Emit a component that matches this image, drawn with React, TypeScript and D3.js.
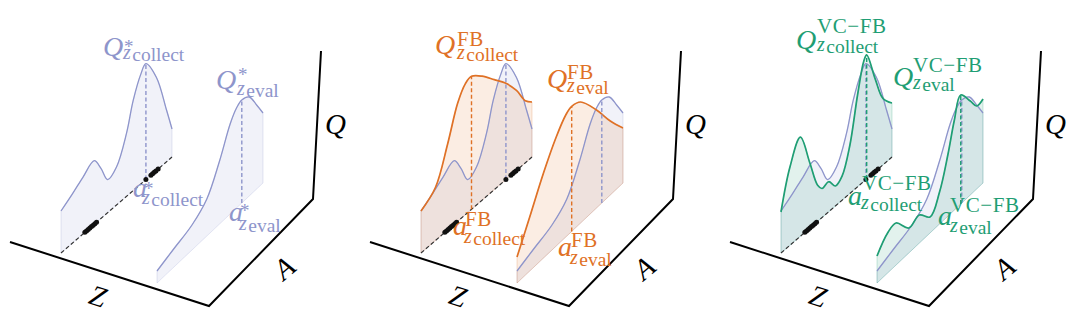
import React from 'react';
import * as d3 from 'd3';

type Pt = [number, number]; // [action a, value Q]

// ---------- data ----------
const panelNames = ['*', 'FB', 'VC−FB'];
const panelColors = ['#8e95cb', '#df7126', '#1f9e74'];

const qStarCollect: Pt[] = [[0, 0.42], [0.1, 0.49], [0.2, 0.57], [0.3, 0.635], [0.36, 0.5], [0.42, 0.33], [0.5, 0.38], [0.59, 0.63], [0.65, 0.9], [0.72, 1.1], [0.765, 1.16], [0.86, 0.93], [0.95, 0.52], [1, 0.28]];
const qStarEval: Pt[] = [[0, 0.12], [0.15, 0.18], [0.33, 0.25], [0.47, 0.37], [0.59, 0.63], [0.69, 0.9], [0.75, 1.0], [0.8, 1.03], [0.87, 0.99], [0.94, 0.84], [1, 0.7]];
const qFBCollect: Pt[] = [[0, 0.42], [0.13, 0.53], [0.24, 0.86], [0.33, 1.18], [0.4, 1.31], [0.455, 1.33], [0.55, 1.24], [0.66, 1.1], [0.76, 0.97], [0.86, 0.8], [0.94, 0.62], [1, 0.55]];
const qFBEval: Pt[] = [[0, 0.26], [0.12, 0.54], [0.25, 0.85], [0.37, 1.09], [0.46, 1.22], [0.516, 1.25], [0.6, 1.21], [0.75, 0.98], [0.88, 0.74], [1, 0.55]];
const qVCCollect: Pt[] = [[0, 0.41], [0.08, 0.78], [0.175, 0.99], [0.26, 0.65], [0.33, 0.36], [0.37, 0.29], [0.43, 0.3], [0.49, 0.2], [0.55, 0.24], [0.62, 0.48], [0.69, 0.92], [0.745, 1.2], [0.772, 1.24], [0.85, 0.92], [0.92, 0.66], [1, 0.54]];
const qVCEval: Pt[] = [[0, 0.27], [0.1, 0.4], [0.18, 0.42], [0.3, 0.25], [0.4, 0.28], [0.5, 0.16], [0.59, 0.32], [0.67, 0.62], [0.73, 0.9], [0.79, 1.09], [0.88, 0.94], [0.94, 0.83], [1, 0.84]];
const datasetActions = [0.215, 0.23, 0.245, 0.26, 0.275, 0.29, 0.305, 0.32, 0.765, 0.81, 0.825, 0.84, 0.855, 0.875];

const variantCollect: (Pt[] | null)[] = [null, qFBCollect, qVCCollect];
const variantEval: (Pt[] | null)[] = [null, qFBEval, qVCEval];

// ---------- geometry ----------
const W = 1080, H = 333, PANEL_W = 360;
const collectPlane = {
  x: d3.scaleLinear().domain([0, 1]).range([61, 172]),
  y: d3.scaleLinear().domain([0, 1]).range([253, 157]),
};
const evalPlane = {
  x: d3.scaleLinear().domain([0, 1]).range([157, 263]),
  y: d3.scaleLinear().domain([0, 1]).range([283, 183]),
};
const hScale = d3.scaleLinear().domain([0, 1]).range([0, 100]);
type Plane = typeof collectPlane;

const FONT = "'Liberation Serif', 'Times New Roman', serif";

function areaGen(p: Plane) {
  return d3.area<Pt>()
    .x(d => p.x(d[0]))
    .y0(d => p.y(d[0]))
    .y1(d => p.y(d[0]) - hScale(d[1]))
    .curve(d3.curveCatmullRom);
}
function lineGen(p: Plane) {
  return d3.line<Pt>()
    .x(d => p.x(d[0]))
    .y(d => p.y(d[0]) - hScale(d[1]))
    .curve(d3.curveCatmullRom);
}

function Fill({ data, plane, color, fillOpacity }: { data: Pt[]; plane: Plane; color: string; fillOpacity: number }) {
  return <path d={areaGen(plane)(data) || ''} fill={color} fillOpacity={fillOpacity} stroke={color} strokeOpacity={0.22} strokeWidth={1} />;
}
function CurveLine({ data, plane, color, width }: { data: Pt[]; plane: Plane; color: string; width: number }) {
  return <path d={lineGen(plane)(data) || ''} fill="none" stroke={color} strokeWidth={width} strokeLinejoin="round" />;
}
function ArgMax({ data, plane, color }: { data: Pt[]; plane: Plane; color: string }) {
  const best = d3.greatest(data, d => d[1])!;
  const x = plane.x(best[0]);
  return <line x1={x} x2={x} y1={plane.y(best[0])} y2={plane.y(best[0]) - hScale(best[1])} stroke={color} strokeWidth={1.4} strokeDasharray="4 2.5" />;
}

type LabelSpec = { x: number; y: number; supX: number; supY: number; subX: number; subY: number };
function MathLabel({ s, main, sup, word, color }: { s: LabelSpec; main: string; sup: string; word: string; color: string }) {
  const isStar = sup === '*';
  return (
    <text fill={color} fontFamily={FONT}>
      <tspan x={s.x} y={s.y} fontStyle="italic" fontSize={28}>{main}</tspan>
      <tspan x={s.supX} y={s.supY} fontSize={isStar ? 19 : 21} letterSpacing={isStar ? 0 : 0.6}>{sup}</tspan>
      <tspan x={s.subX} y={s.subY} fontStyle="italic" fontSize={20}>z</tspan>
      <tspan dx={1.5} dy={1.5} fontSize={19.5}>{word}</tspan>
    </text>
  );
}

const labelLayout: { qc: LabelSpec; qe: LabelSpec; ac: LabelSpec; ae: LabelSpec }[] = [
  {
    qc: { x: 103, y: 56, supX: 124, supY: 53, subX: 123, subY: 59 },
    qe: { x: 216, y: 89, supX: 238, supY: 81, subX: 237, subY: 95 },
    ac: { x: 133, y: 197, supX: 144, supY: 195, subX: 142, subY: 204 },
    ae: { x: 229, y: 221, supX: 240, supY: 217, subX: 239, subY: 230 },
  },
  {
    qc: { x: 75, y: 54, supX: 97, supY: 46, subX: 97, subY: 59 },
    qe: { x: 187, y: 88, supX: 207, supY: 79, subX: 207, subY: 92 },
    ac: { x: 93, y: 235, supX: 105, supY: 226, subX: 104, subY: 243 },
    ae: { x: 198, y: 256, supX: 211, supY: 247, subX: 210, subY: 264 },
  },
  {
    qc: { x: 76, y: 49, supX: 97, supY: 33, subX: 97, subY: 51 },
    qe: { x: 173, y: 86, supX: 193, supY: 72, subX: 193, subY: 89 },
    ac: { x: 128, y: 205, supX: 142, supY: 190, subX: 141, subY: 209 },
    ae: { x: 218, y: 225, supX: 230, supY: 212, subX: 230, subY: 232 },
  },
];

function Panel({ i }: { i: number }) {
  const blue = panelColors[0];
  const color = panelColors[i];
  const vc = variantCollect[i];
  const ve = variantEval[i];
  const L = labelLayout[i];
  const sup = panelNames[i];
  return (
    <g transform={`translate(${i * PANEL_W},0)`}>
      {/* axes */}
      <path d="M10,242 L209,306 L313,199 L321,51" fill="none" stroke="#000" strokeWidth={2} strokeLinejoin="miter" />
      <text x={325} y={134} fontFamily={FONT} fontStyle="italic" fontSize={29} fill="#000">Q</text>
      <text transform="translate(98,296) rotate(18)" textAnchor="middle" dominantBaseline="central" fontFamily={FONT} fontStyle="italic" fontSize={29} fill="#000">Z</text>
      <text transform="translate(284,268) rotate(-40)" textAnchor="middle" dominantBaseline="central" fontFamily={FONT} fontStyle="italic" fontSize={29} fill="#000">A</text>

      {/* collect plane */}
      <Fill data={qStarCollect} plane={collectPlane} color={blue} fillOpacity={0.12} />
      {vc && <Fill data={vc} plane={collectPlane} color={color} fillOpacity={0.13} />}
      <line x1={collectPlane.x(0)} y1={collectPlane.y(0)} x2={collectPlane.x(1)} y2={collectPlane.y(1)} stroke="#333" strokeWidth={1.2} strokeDasharray="4 2.5" />
      <CurveLine data={qStarCollect} plane={collectPlane} color={blue} width={1.3} />
      {vc && <CurveLine data={vc} plane={collectPlane} color={color} width={1.7} />}
      <ArgMax data={qStarCollect} plane={collectPlane} color={blue} />
      {vc && <ArgMax data={vc} plane={collectPlane} color={color} />}
      {datasetActions.map((a, k) => (
        <circle key={k} cx={collectPlane.x(a)} cy={collectPlane.y(a)} r={2.5} fill="#111" />
      ))}

      {/* eval plane */}
      <Fill data={qStarEval} plane={evalPlane} color={blue} fillOpacity={0.12} />
      {ve && <Fill data={ve} plane={evalPlane} color={color} fillOpacity={0.13} />}
      <CurveLine data={qStarEval} plane={evalPlane} color={blue} width={1.3} />
      {ve && <CurveLine data={ve} plane={evalPlane} color={color} width={1.7} />}
      <ArgMax data={qStarEval} plane={evalPlane} color={blue} />
      {ve && <ArgMax data={ve} plane={evalPlane} color={color} />}

      {/* labels */}
      <MathLabel s={L.qc} main="Q" sup={sup} word="collect" color={color} />
      <MathLabel s={L.qe} main="Q" sup={sup} word="eval" color={color} />
      <MathLabel s={L.ac} main="a" sup={sup} word="collect" color={color} />
      <MathLabel s={L.ae} main="a" sup={sup} word="eval" color={color} />
    </g>
  );
}

export default function App() {
  return (
    <svg width={W} height={H} viewBox={`0 0 ${W} ${H}`} style={{ position: 'absolute', left: 0, top: 0, background: '#fff' }}>
      <rect width={W} height={H} fill="#fff" />
      {d3.range(3).map(i => <Panel key={i} i={i} />)}
    </svg>
  );
}
